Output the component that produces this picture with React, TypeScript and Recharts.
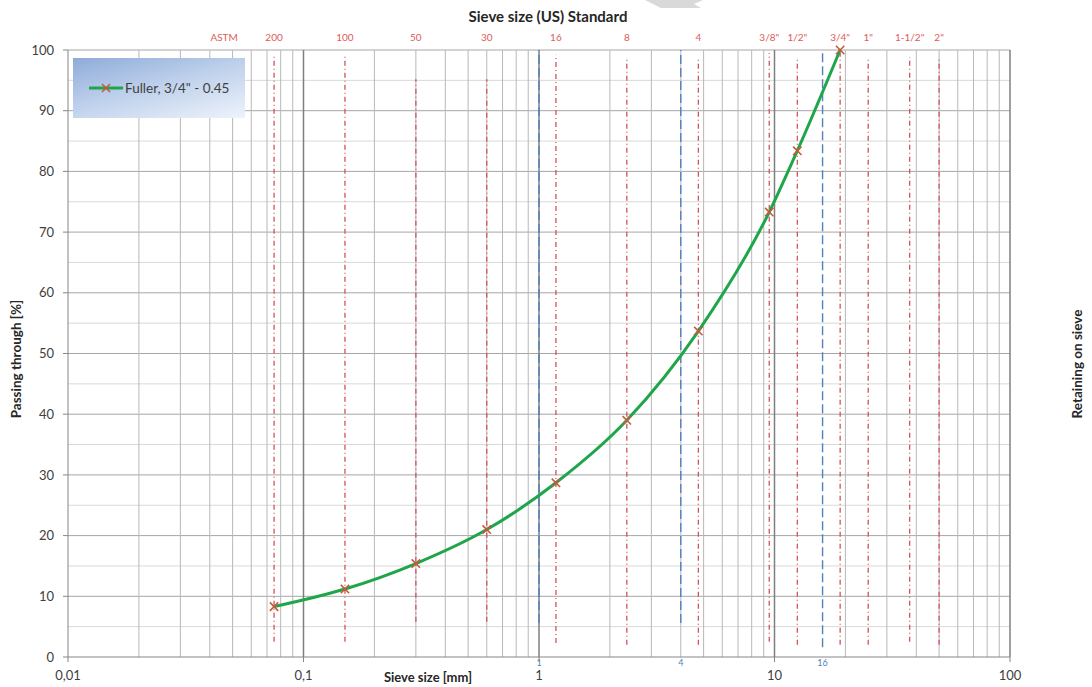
import React from 'react';
import {
  ComposedChart, Line, XAxis, YAxis, ReferenceLine, Customized,
} from 'recharts';

// ---- data ----
const sieveMm = [0.075, 0.15, 0.3, 0.6, 1.18, 2.36, 4.75, 9.5, 12.5, 19];
const passing = [8.3, 11.2, 15.4, 21.0, 28.7, 39.0, 53.7, 73.3, 83.4, 100];

const astmSizes = [0.075, 0.15, 0.3, 0.6, 1.18, 2.36, 4.75, 9.5, 12.5, 19, 25, 37.5, 50];
const astmLabels = ['200', '100', '50', '30', '16', '8', '4', '3/8"', '1/2"', '3/4"', '1"', '1-1/2"', '2"'];
const astmTop = [99.2, 99.2, 95.2, 95.2, 99.2, 98.5, 98.5, 99.5, 98.4, 99.5, 98.8, 98.8, 98.8];
const astmBottom = [2.5, 2.5, 5.8, 5.8, 2.3, 2.0, 2.0, 2.5, 2.0, 2.0, 2.0, 2.5, 2.0];
const astmHeaderPos = 0.046;
const astmHeaderLabel = 'ASTM';

const blueSizes = [1, 4, 16];
const blueLabels = ['1', '4', '16'];
const blueTop = [100, 100, 100];
const blueBottom = [5.6, 5.6, 1.6];

const xTicks = [0.01, 0.1, 1, 10, 100];
const xTickLabels = ['0,01', '0,1', '1', '10', '100'];
const yTicks = [0, 10, 20, 30, 40, 50, 60, 70, 80, 90, 100];
const yMinor = [5, 15, 25, 35, 45, 55, 65, 75, 85, 95];
const decades = [0.01, 0.1, 1, 10];
const minorMult = [2, 3, 4, 5, 6, 7, 8, 9];

const seriesName = 'Fuller, 3/4" - 0.45';

const data = sieveMm.map((d, i) => ({ d, p: passing[i] }));

// ---- layout ----
const W = 1092;
const H = 687;
const PLOT_LEFT = 68;
const PLOT_RIGHT = 1010;
const PLOT_TOP = 50;
const PLOT_BOTTOM = 657;
const FONT = 'Lato, "Open Sans", sans-serif';

const XDot = (props: any) => {
  const { cx, cy } = props;
  if (cx == null || cy == null) return <g />;
  const s = 4.2;
  return (
    <g>
      <line x1={cx - s} y1={cy - s} x2={cx + s} y2={cy + s} stroke="#c55a3c" strokeWidth={1.6} />
      <line x1={cx - s} y1={cy + s} x2={cx + s} y2={cy - s} stroke="#c55a3c" strokeWidth={1.6} />
    </g>
  );
};

const LegendBox = () => (
  <div
    style={{
      position: 'absolute',
      left: 73,
      top: 58,
      width: 172,
      height: 60,
      boxSizing: 'border-box',
      background: 'linear-gradient(165deg, #8eabd8 0%, #bccfeb 45%, #eef3fb 100%)',
      display: 'flex',
      alignItems: 'center',
      fontFamily: FONT,
      fontSize: 13.5,
      color: '#404040',
      paddingLeft: 16,
    }}
  >
    <svg width={34} height={12} style={{ marginRight: 2 }}>
      <line x1={0} y1={6} x2={34} y2={6} stroke="#1fa64a" strokeWidth={3} />
      <line x1={13} y1={2} x2={21} y2={10} stroke="#c55a3c" strokeWidth={1.6} />
      <line x1={13} y1={10} x2={21} y2={2} stroke="#c55a3c" strokeWidth={1.6} />
    </svg>
    <span>{seriesName}</span>
  </div>
);

const Overlay = () => (
  <g fontFamily={FONT}>
    <polygon points="645,0 703,0 694,4 701,8 661,8" fill="#d9d9d9" />
    <text x={548} y={22} textAnchor="middle" fontSize={15} fontWeight={700} fill="#262626">
      Sieve size (US) Standard
    </text>
    <text x={428} y={682} textAnchor="middle" fontSize={13} fontWeight={700} fill="#262626">
      Sieve size [mm]
    </text>
    <text
      transform="translate(21,359) rotate(-90)"
      textAnchor="middle"
      fontSize={13.5}
      fontWeight={700}
      fill="#262626"
    >
      Passing through [%]
    </text>
    <text
      transform="translate(1082,364) rotate(-90)"
      textAnchor="middle"
      fontSize={13.5}
      fontWeight={700}
      fill="#262626"
    >
      Retaining on sieve
    </text>
  </g>
);

const topLabel = (txt: string) => (p: any) => (
  <text
    x={p.viewBox.x}
    y={PLOT_TOP - 9}
    textAnchor="middle"
    fontFamily={FONT}
    fontSize={10}
    fill="#e05a5a"
  >
    {txt}
  </text>
);

const minorX: number[] = [];
decades.forEach((dec) => minorMult.forEach((m) => minorX.push(+(dec * m).toPrecision(3))));

export default function App() {
  return (
    <div style={{ position: 'absolute', left: 0, top: 0, width: W, height: H, background: '#fff' }}>
      <ComposedChart
        width={W}
        height={H}
        data={data}
        margin={{ top: PLOT_TOP, right: W - PLOT_RIGHT, bottom: 0, left: 0 }}
      >
        <XAxis
          dataKey="d"
          type="number"
          scale="log"
          domain={[0.01, 100]}
          ticks={xTicks}
          allowDataOverflow
          height={H - PLOT_BOTTOM}
          tickSize={5}
          tickMargin={9}
          tickFormatter={(v: number) => xTickLabels[xTicks.indexOf(v)] ?? String(v)}
          tick={{ fontFamily: FONT, fontSize: 13, fill: '#404040' }}
          stroke="#868686"
          interval={0}
        />
        <YAxis
          type="number"
          domain={[0, 100]}
          ticks={yTicks}
          width={PLOT_LEFT}
          tickSize={5}
          tickMargin={9}
          interval={0}
          tick={{ fontFamily: FONT, fontSize: 13, fill: '#404040' }}
          stroke="#868686"
        />

        {yMinor.map((v) => (
          <ReferenceLine key={'ym' + v} y={v} stroke="#d9d9d9" strokeWidth={1} />
        ))}
        {yTicks.filter((v) => v > 0).map((v) => (
          <ReferenceLine key={'yM' + v} y={v} stroke="#a6a6a6" strokeWidth={1} />
        ))}
        {minorX.map((v) => (
          <ReferenceLine key={'xm' + v} x={v} stroke="#b8b8b8" strokeWidth={1} />
        ))}
        {[0.1, 1, 10, 100].map((v) => (
          <ReferenceLine key={'xM' + v} x={v} stroke="#7f7f7f" strokeWidth={1.5} />
        ))}

        <ReferenceLine
          segment={[{ x: astmHeaderPos, y: 99 }, { x: astmHeaderPos, y: 100 }]}
          stroke="none"
          label={topLabel(astmHeaderLabel)}
        />
        {astmSizes.map((s, i) => (
          <ReferenceLine
            key={'astm' + s}
            segment={[{ x: s, y: astmBottom[i] }, { x: s, y: astmTop[i] }]}
            stroke="#d0545a"
            strokeWidth={1.3}
            strokeDasharray="5 3 1 3"
            label={topLabel(astmLabels[i])}
          />
        ))}
        {blueSizes.map((s, i) => (
          <ReferenceLine
            key={'blue' + s}
            segment={[{ x: s, y: blueBottom[i] }, { x: s, y: blueTop[i] }]}
            stroke="#4f81bd"
            strokeWidth={1.4}
            strokeDasharray="9 4"
            label={(p: any) => (
              <text
                x={p.viewBox.x}
                y={PLOT_BOTTOM + 9}
                textAnchor="middle"
                fontFamily={FONT}
                fontSize={9}
                fill="#4f81bd"
              >
                {blueLabels[i]}
              </text>
            )}
          />
        ))}

        <Line
          dataKey="p"
          type="monotone"
          stroke="#1fa64a"
          strokeWidth={3}
          dot={<XDot />}
          activeDot={false}
          isAnimationActive={false}
          name={seriesName}
        />
        <Customized component={Overlay} />
      </ComposedChart>
      <LegendBox />
    </div>
  );
}
